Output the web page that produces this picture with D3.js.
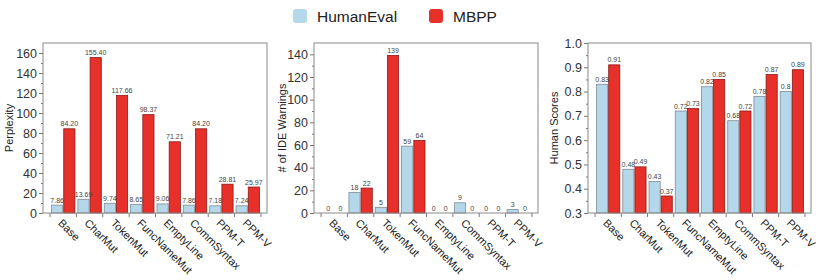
<!DOCTYPE html>
<html>
<head>
<meta charset="utf-8">
<script src="https://cdn.jsdelivr.net/npm/d3@7"></script>
<style>
  body { margin: 0; background: #fff; }
  text { font-family: "Liberation Sans", Arial, sans-serif; }
</style>
</head>
<body>
<div id="chart"></div>
<script>
const categories = ['Base', 'CharMut', 'TokenMut', 'FuncNameMut', 'EmptyLine', 'CommSyntax', 'PPM-T', 'PPM-V'];
const seriesNames = ['HumanEval', 'MBPP'];

const perplexityHumanEval = [7.86, 13.69, 9.74, 8.65, 9.06, 7.86, 7.18, 7.24];
const perplexityMBPP = [84.20, 155.40, 117.66, 98.37, 71.21, 84.20, 28.81, 25.97];

const warningsHumanEval = [0, 18, 5, 59, 0, 9, 0, 3];
const warningsMBPP = [0, 22, 139, 64, 0, 0, 0, 0];

const scoresHumanEval = [0.83, 0.48, 0.43, 0.72, 0.82, 0.68, 0.78, 0.8];
const scoresMBPP = [0.91, 0.49, 0.37, 0.73, 0.85, 0.72, 0.87, 0.89];

const perplexityTicks = [0, 20, 40, 60, 80, 100, 120, 140, 160];
const warningsTicks = [0, 20, 40, 60, 80, 100, 120, 140];
const scoresTicks = [0.3, 0.4, 0.5, 0.6, 0.7, 0.8, 0.9, 1.0];

const fillColor = { HumanEval: '#b4d8ea', MBPP: '#e8302a' };
const strokeColor = { HumanEval: '#7f8c94', MBPP: '#8a1a16' };

const W = 823, H = 280;
const svg = d3.select('#chart').append('svg')
    .attr('width', W)
    .attr('height', H);

// legend at the top
const legendItems = [
    { name: 'HumanEval', x: 293 },
    { name: 'MBPP', x: 429 }
];
legendItems.forEach(item => {
    svg.append('rect')
        .attr('x', item.x).attr('y', 9)
        .attr('width', 14).attr('height', 14)
        .attr('rx', 3)
        .attr('fill', fillColor[item.name]);
    svg.append('text')
        .attr('x', item.x + 24).attr('y', 22)
        .style('font-size', '15.5px')
        .attr('fill', '#222')
        .text(item.name);
});

function drawPanel(opts) {
    const top = 43, bottom = 213;
    const g = svg.append('g');

    const y = d3.scaleLinear().domain(opts.domain).range([bottom, top]);
    const x0 = d3.scaleBand()
        .domain(categories)
        .range([opts.left + 7, opts.right - 6])
        .paddingInner(0.075)
        .paddingOuter(0.04);
    const x1 = d3.scaleBand()
        .domain(seriesNames)
        .range([0, x0.bandwidth()]);

    // minor ticks
    g.append('g')
        .attr('transform', `translate(${opts.left},0)`)
        .call(d3.axisLeft(y).tickValues(opts.minor).tickSize(2).tickFormat(''))
        .call(a => a.select('.domain').remove())
        .selectAll('line').attr('stroke', '#777');

    // major ticks
    const yAxis = g.append('g')
        .attr('transform', `translate(${opts.left},0)`)
        .call(d3.axisLeft(y).tickValues(opts.ticks).tickSize(4).tickPadding(2).tickFormat(opts.tickFormat));
    yAxis.select('.domain').remove();
    yAxis.selectAll('line').attr('stroke', '#777');
    yAxis.selectAll('text')
        .style('font-size', '12.5px')
        .attr('fill', '#333');

    // category boundary ticks below the axis
    const bounds = categories.map(c => x0(c) - x0.step() * x0.paddingInner() / 2);
    bounds.push(x0(categories[categories.length - 1]) + x0.bandwidth() + x0.step() * x0.paddingInner() / 2);
    g.selectAll('.btick')
        .data(bounds)
        .enter().append('line')
        .attr('x1', d => d).attr('x2', d => d)
        .attr('y1', bottom).attr('y2', bottom + 4)
        .attr('stroke', '#777');

    // bars
    const rows = categories.map((c, i) => ({ cat: c, HumanEval: opts.a[i], MBPP: opts.b[i] }));
    const groups = g.selectAll('.grp')
        .data(rows)
        .enter().append('g')
        .attr('transform', d => `translate(${x0(d.cat)},0)`);

    groups.selectAll('rect')
        .data(d => seriesNames.map(s => ({ s: s, v: d[s] })))
        .enter().append('rect')
        .attr('x', d => x1(d.s) + 0.5)
        .attr('y', d => y(d.v))
        .attr('width', x1.bandwidth() - 1)
        .attr('height', d => Math.max(0, y(opts.domain[0]) - y(d.v)))
        .attr('fill', d => fillColor[d.s])
        .attr('stroke', d => strokeColor[d.s])
        .attr('stroke-width', 0.8);

    groups.selectAll('.val')
        .data(d => seriesNames.map(s => ({ s: s, v: d[s] })))
        .enter().append('text')
        .attr('x', d => x1(d.s) + x1.bandwidth() / 2)
        .attr('y', d => y(d.v) - 2.5)
        .attr('text-anchor', 'middle')
        .style('font-size', '7px')
        .attr('fill', '#444')
        .text(d => opts.valueFormat(d.v));

    // frame
    g.append('rect')
        .attr('x', opts.left).attr('y', top)
        .attr('width', opts.right - opts.left).attr('height', bottom - top)
        .attr('fill', 'none')
        .attr('stroke', '#8a8a8a')
        .attr('stroke-width', 1);

    // category labels
    g.selectAll('.cat')
        .data(categories)
        .enter().append('text')
        .attr('transform', d => `translate(${x0(d) + x0.bandwidth() / 2 - 3},${bottom + 8}) rotate(45)`)
        .attr('text-anchor', 'start')
        .attr('dy', '0.35em')
        .style('font-size', '11px')
        .attr('fill', '#222')
        .text(d => d);

    // y title
    g.append('text')
        .attr('transform', `translate(${opts.titleX},${(top + bottom) / 2}) rotate(-90)`)
        .attr('text-anchor', 'middle')
        .style('font-size', '11px')
        .attr('fill', '#222')
        .text(opts.title);
}

drawPanel({
    left: 43, right: 267,
    domain: [0, 170],
    ticks: perplexityTicks,
    minor: d3.range(10, 170, 20),
    tickFormat: d3.format('d'),
    valueFormat: v => v.toFixed(2),
    a: perplexityHumanEval, b: perplexityMBPP,
    title: 'Perplexity', titleX: 13
});

drawPanel({
    left: 314, right: 538,
    domain: [0, 150],
    ticks: warningsTicks,
    minor: d3.range(10, 150, 20),
    tickFormat: d3.format('d'),
    valueFormat: v => String(v),
    a: warningsHumanEval, b: warningsMBPP,
    title: '# of IDE Warnings', titleX: 286
});

drawPanel({
    left: 588, right: 811,
    domain: [0.3, 1.0],
    ticks: scoresTicks,
    minor: [0.35, 0.45, 0.55, 0.65, 0.75, 0.85, 0.95],
    tickFormat: d3.format('.1f'),
    valueFormat: v => String(v),
    a: scoresHumanEval, b: scoresMBPP,
    title: 'Human Scores', titleX: 558
});
</script>
</body>
</html>
